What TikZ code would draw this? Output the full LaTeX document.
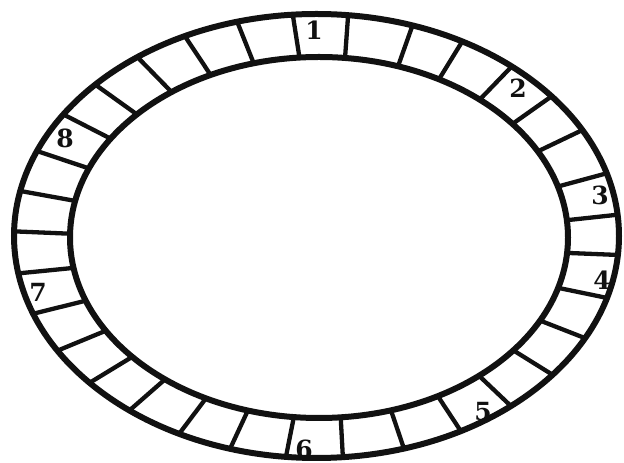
\documentclass[tikz,border=0pt]{standalone}
\usepackage{fontspec}
\usepackage{xcolor}
\usepackage{tikz}
\usetikzlibrary{calc}
\newfontfamily\numfont{DejaVu Serif}
\definecolor{ink}{HTML}{111111}
\tikzset{
  ringline/.style={draw=ink, line width=6pt},
  divider/.style={draw=ink, line width=4.3pt},
  cellnum/.style={font=\numfont\bfseries\fontsize{25}{25}\selectfont,
    text=ink, inner sep=0pt}
}

\begin{document}
\begin{tikzpicture}[x=1pt,y=1pt]
  \useasboundingbox (0,0) rectangle (624,463);
  \coordinate (oc) at (316.5,227);
  \coordinate (ic) at (319,225.5);

  % cell walls (angles on the ellipses)
  \foreach \t in {84,71.5,61.2,49.8,39,28.5,16.4,5.5,-4.9,-16.2,-27.4,-38.7,
                  -50,-61.5,-73.2,-85,-95.8,-106.6,-117,-128.2,-138.6,-148.9,
                  -159.5,-170.3,178.8,168.3,157.5,146.8,137,126.3,115.8,105.2,94.5}
    \draw[divider] ($(ic)+({249*cos(\t)},{180.5*sin(\t)})$)
                -- ($(oc)+({302.5*cos(\t)},{222*sin(\t)})$);

  % ring
  \draw[ringline] (oc) ellipse [x radius=302.5, y radius=222];
  \draw[ringline] (ic) ellipse [x radius=249, y radius=180.5];

  % ---- cell numbers ----
  \node[cellnum] (n1) at (314,433) {1};
  \node[cellnum] (n2) at (518,375) {2};
  \node[cellnum] (n3) at (600,268) {3};
  \node[cellnum] (n4) at (602,183) {4};
  \node[cellnum] (n5) at (483,51)  {5};
  \node[cellnum] (n6) at (304,14)  {6};
  \node[cellnum] (n7) at (38,171)  {7};
  \node[cellnum] (n8) at (65,325)  {8};
\end{tikzpicture}
\end{document}
